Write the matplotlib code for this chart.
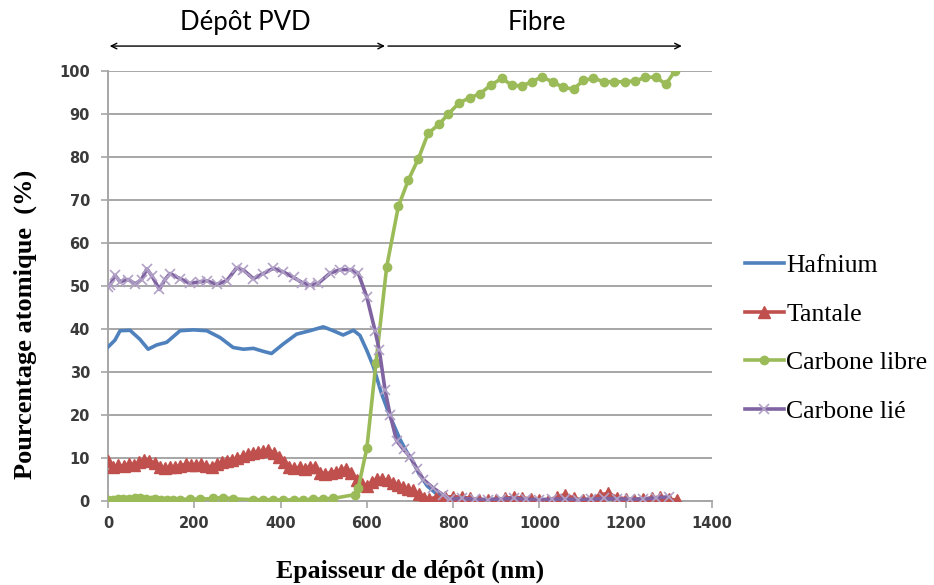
import matplotlib
matplotlib.use("Agg")
import matplotlib.pyplot as plt

# Hafnium (line only)
hf_x = [0, 16, 28, 51, 74, 93, 113, 136, 167, 198, 229, 260, 290, 314, 337, 360, 379, 406,
        437, 468, 499, 522, 545, 569, 584, 600, 615, 634, 654, 677, 692, 705, 720, 740, 760,
        780, 800, 850, 900, 950, 1000, 1050, 1100, 1150, 1200, 1250, 1300]
hf_y = [35.8, 37.4, 39.6, 39.7, 37.6, 35.3, 36.3, 36.9, 39.6, 39.8, 39.6, 38.0, 35.7, 35.3,
        35.5, 34.8, 34.3, 36.5, 38.8, 39.6, 40.5, 39.6, 38.6, 39.7, 38.5, 35.0, 31.3, 25.0,
        19.6, 14.3, 11.5, 9.5, 6.5, 3.5, 1.8, 0.6, 0.3, 0.3, 0.4, 0.4, 0.3, 0.4, 0.3, 0.5,
        0.4, 0.4, 0.8]

# Tantale (triangles)
ta_x = [0, 12, 24, 36, 48, 60, 72, 84, 96, 108, 120, 132, 144, 156, 168, 180, 192, 204, 216,
        228, 240, 252, 264, 276, 288, 300, 312, 324, 336, 348, 360, 372, 384, 396, 408, 420,
        432, 444, 456, 468, 480, 492, 504, 516, 528, 540, 552, 564, 576, 588, 600, 612, 624,
        636, 648, 660, 672, 684, 696, 708, 720, 732, 744, 760, 780, 800, 820, 840, 860, 880,
        900, 920, 940, 960, 980, 1000, 1020, 1040, 1060, 1080, 1100, 1120, 1140, 1160, 1180,
        1200, 1220, 1240, 1260, 1280, 1300, 1320]
ta_y = [9.2, 8.0, 8.3, 8.1, 8.6, 8.3, 9.0, 9.6, 9.3, 8.8, 7.9, 7.6, 7.8, 7.9, 8.2, 8.5, 8.4,
        8.3, 8.6, 8.1, 8.0, 8.7, 9.0, 9.3, 9.6, 10.0, 10.4, 10.9, 11.2, 11.5, 11.6, 11.8, 11.2,
        10.2, 9.0, 7.8, 7.6, 7.8, 7.5, 8.0, 7.8, 6.5, 6.3, 6.6, 6.8, 7.2, 7.5, 6.5, 5.0, 4.0,
        3.5, 4.4, 5.2, 5.1, 4.8, 4.2, 3.8, 3.3, 2.8, 2.5, 1.6, 0.6, 0.5, 0.8, 0.9, 1.0, 0.9,
        0.6, 0.3, 0.2, 0.3, 0.6, 0.9, 0.7, 0.5, 0.2, 0.1, 0.9, 1.5, 0.6, 0.2, 0.5, 1.4, 1.8,
        0.8, 0.5, 0.3, 0.4, 0.7, 0.9, 0.4, 0.2]

# Carbone libre (dots)
cl_x = [0, 12, 24, 35, 48, 62, 74, 88, 100, 109, 122, 136, 150, 167, 190, 213, 244, 267, 290,
        337, 360, 383, 406, 430, 453, 476, 499, 522, 573, 580, 600, 621, 646, 673, 696, 719,
        742, 767, 789, 814, 839, 862, 887, 913, 936, 959, 982, 1005, 1031, 1054, 1079, 1102,
        1125, 1150, 1173, 1198, 1222, 1245, 1270, 1293, 1314]
cl_y = [0.3, 0.3, 0.4, 0.5, 0.4, 0.6, 0.8, 0.5, 0.3, 0.4, 0.3, 0.3, 0.2, 0.3, 0.5, 0.4, 0.6,
        0.8, 0.5, 0.3, 0.3, 0.3, 0.2, 0.3, 0.3, 0.4, 0.5, 0.6, 1.5, 3.0, 12.3, 32.0, 54.5,
        68.5, 74.6, 79.5, 85.5, 87.6, 90.0, 92.6, 93.8, 94.7, 96.7, 98.3, 96.7, 96.5, 97.5,
        98.6, 97.5, 96.2, 95.8, 97.8, 98.3, 97.5, 97.5, 97.5, 97.7, 98.5, 98.6, 96.9, 100.0]

# Carbone lie (crosses)
cb_x = [0, 5, 16, 28, 47, 63, 78, 90, 102, 119, 132, 144, 167, 190, 213, 229, 252, 275, 298,
        314, 337, 360, 383, 406, 430, 450, 468, 487, 515, 538, 561, 580, 600, 619, 629, 642,
        654, 669, 685, 700, 716, 731, 754, 777, 793, 820, 850, 880, 910, 940, 970, 1000, 1030,
        1060, 1090, 1120, 1150, 1180, 1210, 1240, 1270, 1300]
cb_y = [49.8, 50.2, 52.5, 51.0, 51.5, 50.5, 51.5, 54.0, 52.3, 49.2, 51.5, 52.9, 51.7, 50.6,
        51.0, 51.2, 50.4, 51.2, 54.2, 53.7, 51.7, 52.9, 54.1, 53.3, 52.0, 50.8, 50.2, 50.6,
        53.0, 53.8, 53.8, 53.0, 47.4, 39.6, 35.0, 25.9, 20.0, 14.0, 12.0, 10.3, 7.5, 5.0, 3.0,
        1.4, 0.5, 0.6, 0.4, 0.3, 0.5, 0.6, 0.4, 0.3, 0.4, 0.5, 0.3, 0.4, 0.6, 0.5, 0.4, 0.5,
        0.7, 1.0]

fig = plt.figure(figsize=(9.34, 5.85), dpi=100)
ax = fig.add_axes([108 / 934, 1 - 501 / 585, 604 / 934, 430 / 585])

ax.plot(hf_x, hf_y, color="#4F81BD", lw=2.6, label="Hafnium", zorder=3)
ax.plot(ta_x, ta_y, color="#C0504D", lw=2.6, marker="^", ms=8, label="Tantale", zorder=3)
ax.plot(cl_x, cl_y, color="#9BBB59", lw=2.6, marker="o", ms=6, label="Carbone libre", zorder=3)
ax.plot(cb_x, cb_y, color="#8064A2", lw=2.6, marker="x", ms=7, mew=1.2, mec="#B3A2C7",
        label="Carbone lié", zorder=4)

ax.set_xlim(0, 1400)
ax.set_ylim(0, 100)
ax.set_xticks(range(0, 1401, 200))
ax.set_yticks(range(0, 101, 10))
ax.grid(axis="y", color="#A6A6A6", lw=1.4)
ax.set_axisbelow(True)
for s in ["top", "right"]:
    ax.spines[s].set_visible(False)
for s in ["left", "bottom"]:
    ax.spines[s].set_color("#A6A6A6")
    ax.spines[s].set_linewidth(1.4)
ax.tick_params(colors="#A6A6A6", length=5, width=1.2, labelcolor="#3A3A3A", labelsize=10.5)
for lab in ax.get_xticklabels() + ax.get_yticklabels():
    lab.set_fontweight("bold")
ax.tick_params(axis="x", pad=6)
ax.tick_params(axis="y", pad=8)

ax.set_xlabel("Epaisseur de dépôt (nm)", fontfamily="Liberation Serif", fontweight="bold",
              fontsize=18.5, va="center")
ax.xaxis.set_label_coords(0.5, -0.163)
ax.set_ylabel("Pourcentage atomique  (%)", fontfamily="Liberation Serif", fontweight="bold",
              fontsize=19, va="center")
ax.yaxis.set_label_coords(-0.137, 0.41)

# region arrows and labels above the plot
ax.annotate("", xy=(4, 105.8), xytext=(642, 105.8), annotation_clip=False,
            arrowprops=dict(arrowstyle="<->", color="black", lw=1.0, shrinkA=0, shrinkB=0))
ax.annotate("", xy=(649, 105.8), xytext=(1330, 105.8), annotation_clip=False,
            arrowprops=dict(arrowstyle="<-", color="black", lw=1.0, shrinkA=0, shrinkB=0))
ax.text(318, 111.2, "Dépôt PVD", ha="center", va="center", fontsize=18.5, fontfamily="Lato",
        clip_on=False)
ax.text(994, 111.2, "Fibre", ha="center", va="center", fontsize=18.5, fontfamily="Lato",
        clip_on=False)

fig.legend(loc="upper left", bbox_to_anchor=(745 / 934, 1 - 254 / 585), frameon=False,
           prop={"family": "Liberation Serif", "size": 18.5}, labelspacing=1.0,
           handlelength=1.5, handletextpad=0.1, borderpad=0, borderaxespad=0)

fig.savefig("out.png", dpi=100)
